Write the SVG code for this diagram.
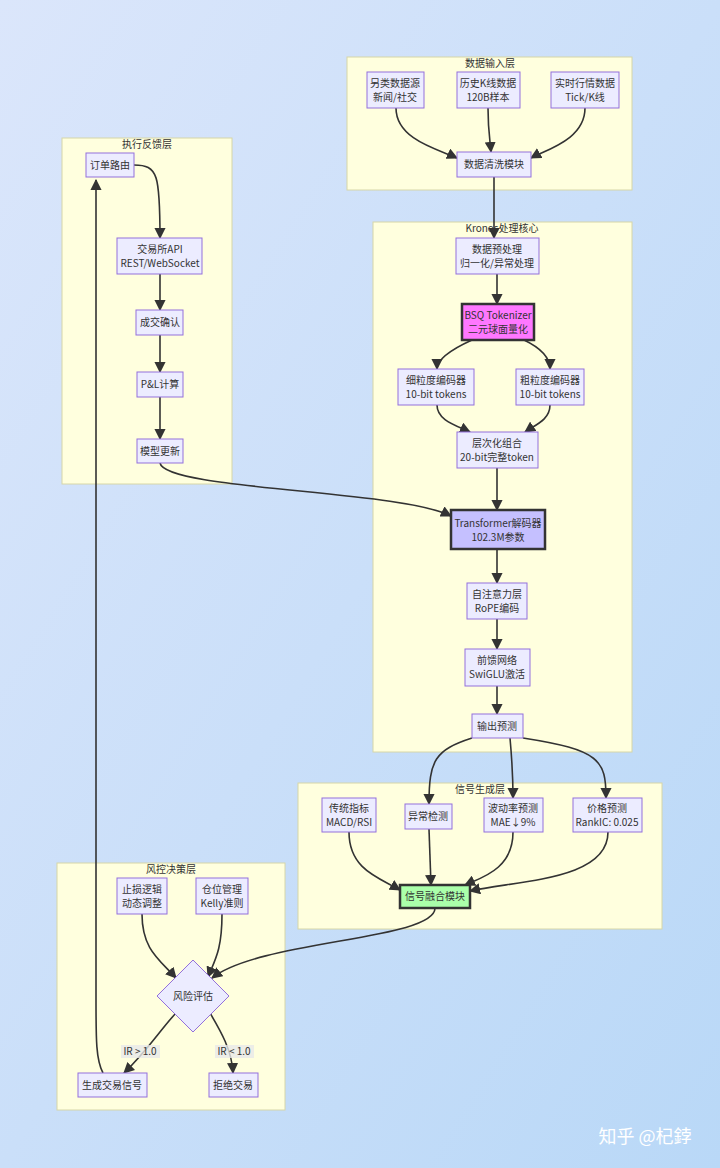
<svg xmlns="http://www.w3.org/2000/svg" width="720" height="1168" viewBox="0 0 720 1168">
<defs>
<linearGradient id="bg" x1="0" y1="0" x2="1" y2="1"><stop offset="0" stop-color="#dbe6fb"/><stop offset="1" stop-color="#b9d8f7"/></linearGradient>
<marker id="ah" viewBox="0 0 10 10" refX="9" refY="5" markerWidth="7" markerHeight="7" orient="auto"><path d="M0,0 L10,5 L0,10 z" fill="#333"/></marker>
<style>
text{font-family:"Noto Sans CJK SC","Noto Sans",sans-serif;font-size:10px;fill:#333;text-anchor:middle}
.sg{fill:#ffffde;stroke:#d6d6a8;stroke-width:1}
.n{fill:#ececff;stroke:#9370db;stroke-width:1}
.e{fill:none;stroke:#333;stroke-width:1.6;marker-end:url(#ah)}
.lb{fill:#e8e8e8;opacity:.8}
</style>
</defs>
<rect width="720" height="1168" fill="url(#bg)"/>
<g id="layers">
<rect class="sg" x="347" y="57" width="285" height="133"/><text x="490" y="67">数据输入层</text>
<rect class="sg" x="373" y="222" width="259" height="530"/><text x="502" y="232">Kronos处理核心</text>
<rect class="sg" x="62" y="138" width="170" height="346"/><text x="147" y="148">执行反馈层</text>
<rect class="sg" x="298" y="783" width="364" height="146"/><text x="480" y="793">信号生成层</text>
<rect class="sg" x="57" y="863" width="228" height="247"/><text x="171" y="873">风控决策层</text>
</g>
<g id="connectors">
<path class="e" d="M396,108 C396,140 440,150 457,158"/>
<path class="e" d="M488,108 C488,130 490,140 491,152"/>
<path class="e" d="M585,108 C585,140 545,150 531,158"/>
<path class="e" d="M494,177 L494,238"/>
<path class="e" d="M497,274 L497,304"/>
<path class="e" d="M472,340 C450,350 437,360 437,369"/>
<path class="e" d="M524,340 C545,350 550,360 550,369"/>
<path class="e" d="M437,405 C437,420 455,425 470,432"/>
<path class="e" d="M550,405 C550,420 535,425 525,432"/>
<path class="e" d="M497,468 L497,510"/>
<path class="e" d="M497,549 L497,583"/>
<path class="e" d="M497,619 L497,649"/>
<path class="e" d="M497,686 L497,714"/>
<path class="e" d="M472,738 C435,750 429,760 429,804"/>
<path class="e" d="M510,738 C512,760 513,775 513,798"/>
<path class="e" d="M523,738 C600,750 606,760 606,798"/>
<path class="e" d="M349,832 C349,870 380,878 400,890"/>
<path class="e" d="M429,829 L431,885"/>
<path class="e" d="M513,832 C513,870 480,878 465,885"/>
<path class="e" d="M608,832 C608,880 520,880 470,891"/>
<path class="e" d="M435,908 C435,940 260,940 212,978"/>
<path class="e" d="M142,914 C142,950 160,960 176,978"/>
<path class="e" d="M222,914 C222,950 215,960 208,977"/>
<path class="e" d="M176,1013 C160,1030 148,1050 124,1073"/>
<path class="e" d="M210,1013 C220,1030 232,1050 233,1073"/>
<path class="e" d="M103,1073 C96,1060 96,1040 96,1000 L96,180"/>
<path class="e" d="M134,165 C158,165 160,175 160,238"/>
<path class="e" d="M160,274 L160,310"/>
<path class="e" d="M160,335 L160,372"/>
<path class="e" d="M160,397 L160,439"/>
<path class="e" d="M160,463 C165,490 400,490 451,516"/>
<rect class="lb" x="121" y="1045" width="39" height="13"/><text x="140" y="1055">IR &gt; 1.0</text>
<rect class="lb" x="215" y="1045" width="39" height="13"/><text x="234" y="1055">IR &lt; 1.0</text>
</g>
<g id="n1"><rect class="n" x="367" y="72" width="57" height="36"/><text x="395" y="87">另类数据源</text><text x="395" y="101">新闻/社交</text></g>
<g id="n2"><rect class="n" x="457" y="72" width="63" height="36"/><text x="488" y="87">历史K线数据</text><text x="488" y="101">120B样本</text></g>
<g id="n3"><rect class="n" x="551" y="72" width="68" height="36"/><text x="585" y="87">实时行情数据</text><text x="585" y="101">Tick/K线</text></g>
<g id="n4"><rect class="n" x="457" y="152" width="74" height="25"/><text x="494" y="168">数据清洗模块</text></g>
<g id="n5"><rect class="n" x="456" y="238" width="83" height="36"/><text x="497" y="253">数据预处理</text><text x="497" y="267">归一化/异常处理</text></g>
<g id="n6"><rect x="462" y="304" width="72" height="36" fill="#ff77ff" stroke="#333" stroke-width="2.5"/><text x="498" y="319">BSQ Tokenizer</text><text x="498" y="333">二元球面量化</text></g>
<g id="n7"><rect class="n" x="398" y="369" width="76" height="36"/><text x="436" y="384">细粒度编码器</text><text x="436" y="398">10-bit tokens</text></g>
<g id="n8"><rect class="n" x="516" y="369" width="68" height="36"/><text x="550" y="384">粗粒度编码器</text><text x="550" y="398">10-bit tokens</text></g>
<g id="n9"><rect class="n" x="457" y="432" width="81" height="36"/><text x="497" y="447">层次化组合</text><text x="497" y="461">20-bit完整token</text></g>
<g id="n10"><rect x="451" y="510" width="94" height="39" fill="#c5c0ff" stroke="#333" stroke-width="2.5"/><text x="498" y="527">Transformer解码器</text><text x="498" y="541">102.3M参数</text></g>
<g id="n11"><rect class="n" x="467" y="583" width="60" height="36"/><text x="497" y="598">自注意力层</text><text x="497" y="612">RoPE编码</text></g>
<g id="n12"><rect class="n" x="465" y="649" width="65" height="37"/><text x="497" y="664">前馈网络</text><text x="497" y="678">SwiGLU激活</text></g>
<g id="n13"><rect class="n" x="472" y="714" width="51" height="24"/><text x="497" y="730">输出预测</text></g>
<g id="n14"><rect class="n" x="322" y="798" width="54" height="34"/><text x="349" y="812">传统指标</text><text x="349" y="826">MACD/RSI</text></g>
<g id="n15"><rect class="n" x="405" y="804" width="47" height="25"/><text x="428" y="820">异常检测</text></g>
<g id="n16"><rect class="n" x="484" y="798" width="59" height="34"/><text x="513" y="812">波动率预测</text><text x="513" y="826">MAE↓9%</text></g>
<g id="n17"><rect class="n" x="573" y="798" width="69" height="34"/><text x="607" y="812">价格预测</text><text x="607" y="826">RankIC: 0.025</text></g>
<g id="n18"><rect x="400" y="885" width="70" height="23" fill="#aaffaa" stroke="#333" stroke-width="2.5"/><text x="435" y="900">信号融合模块</text></g>
<g id="n19"><rect class="n" x="117" y="878" width="50" height="36"/><text x="142" y="893">止损逻辑</text><text x="142" y="907">动态调整</text></g>
<g id="n20"><rect class="n" x="196" y="878" width="52" height="36"/><text x="222" y="893">仓位管理</text><text x="222" y="907">Kelly准则</text></g>
<g id="n21"><polygon class="n" points="193,960 229,996 193,1032 157,996"/><text x="193" y="1000">风险评估</text></g>
<g id="n22"><rect class="n" x="78" y="1073" width="69" height="24"/><text x="112" y="1089">生成交易信号</text></g>
<g id="n23"><rect class="n" x="209" y="1073" width="49" height="24"/><text x="233" y="1089">拒绝交易</text></g>
<g id="n24"><rect class="n" x="86" y="153" width="48" height="24"/><text x="110" y="169">订单路由</text></g>
<g id="n25"><rect class="n" x="117" y="238" width="85" height="36"/><text x="160" y="253">交易所API</text><text x="160" y="267">REST/WebSocket</text></g>
<g id="n26"><rect class="n" x="136" y="310" width="47" height="25"/><text x="160" y="326">成交确认</text></g>
<g id="n27"><rect class="n" x="137" y="372" width="46" height="25"/><text x="160" y="388">P&amp;L计算</text></g>
<g id="n28"><rect class="n" x="137" y="439" width="46" height="24"/><text x="160" y="455">模型更新</text></g>
<text x="645" y="1143" style="font-size:18px;fill:#fff">知乎 @杞鋍</text>
</svg>
